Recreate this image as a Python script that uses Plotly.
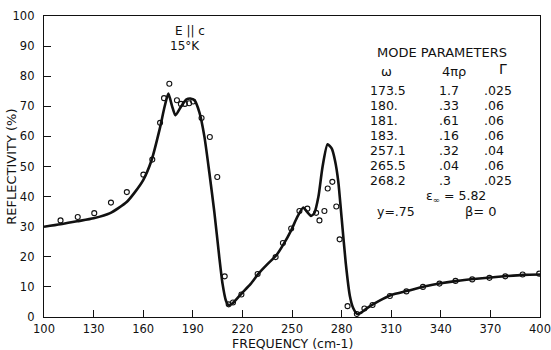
import plotly.graph_objects as go

# Fitted reflectivity curve (frequency in cm-1, reflectivity in %)
fit_freq = [100, 110, 120, 130, 140, 150, 155, 160, 165, 170, 173, 175.2, 177.5, 179.5,
            183, 186, 188.5, 191, 194, 197, 200, 203, 206, 208, 210, 211.5, 214,
            219.5, 225, 230, 235, 240.5, 245, 249.5, 253, 256.8, 259, 261.5, 263.5,
            266, 268.5, 271.5, 274, 276, 278, 280, 282.5, 285, 287, 289.5, 292,
            295, 300, 305, 310, 320, 330, 340, 350, 360, 370, 380, 390, 400]
fit_refl = [30.0, 30.8, 31.8, 32.8, 34.5, 38.2, 41.5, 45.5, 52, 62.5, 70, 74.2, 70, 67,
            70, 72.2, 72.6, 72, 68, 60, 48, 35, 20, 11, 5.5, 4, 4.5,
            7.8, 11, 14.6, 17.5, 20.5, 24.3, 28.8, 33, 36.4, 35, 33.6, 34.5,
            40, 50, 57.4, 56, 52, 45, 33, 18, 7, 3, 1.0, 1.5,
            2.8, 4.5, 6, 7.3, 8.7, 10.1, 11.2, 12.0, 12.6, 13.1, 13.6, 14.0, 14.1]

# Measured reflectivity points
meas_freq = [110, 120.4, 130.4, 140.5, 150.1, 160.1, 165.5, 170.2, 172.6, 175.8,
             180.4, 182.8, 185.2, 187.8, 190.2, 195.3, 200.3, 204.8, 209.3, 211.7,
             214.3, 219.4, 229.2, 240.1, 244.5, 249.5, 254.5, 259.3, 264.6, 266.6,
             269.6, 271.6, 274.4, 276.8, 278.8, 283.6, 289.2, 293.8, 298.7, 309.2,
             319.2, 329.2, 339.2, 348.9, 359, 369.4, 379, 389.5, 399.5]
meas_refl = [32.1, 33.2, 34.5, 38.0, 41.5, 47.3, 52.3, 64.5, 72.7, 77.5,
             72.0, 70.8, 70.8, 71.0, 71.6, 66.1, 59.8, 46.5, 13.5, 4.2,
             4.8, 7.5, 14.3, 19.9, 24.6, 29.4, 35.2, 36.0, 34.6, 32.1,
             35.2, 42.7, 44.9, 36.7, 25.8, 3.6, 1.0, 2.8, 4.0, 7.0,
             8.5, 10.0, 11.1, 12.0, 12.5, 13.0, 13.5, 14.1, 14.4]

# Oscillator mode parameters listed in the table
mode_omega = ["173.5", "180.", "181.", "183.", "257.1", "265.5", "268.2"]
mode_strength = ["1.7", ".33", ".61", ".16", ".32", ".04", ".3"]
mode_gamma = [".025", ".06", ".06", ".06", ".04", ".06", ".025"]

x_ticks = list(range(100, 401, 30))
y_ticks = list(range(0, 101, 10))

FONT = "DejaVu Sans"
INK = "#111111"

fig = go.Figure()
fig.add_trace(go.Scatter(
    x=fit_freq, y=fit_refl, mode="lines",
    line=dict(color=INK, width=2.6, shape="spline", smoothing=0.6),
    hoverinfo="skip", showlegend=False))
fig.add_trace(go.Scatter(
    x=meas_freq, y=meas_refl, mode="markers",
    marker=dict(symbol="circle-open", size=5, color=INK, line=dict(width=1.1, color=INK)),
    showlegend=False))

annotations = []

def label(x, y, text, size=12, xanchor="center"):
    annotations.append(dict(x=x, y=y, xref="x", yref="y", text=text, showarrow=False,
                            xanchor=xanchor, yanchor="middle",
                            font=dict(family=FONT, size=size, color=INK)))

label(188.5, 95, "E || c", 12)
label(185.5, 90, "15°K", 12)

# Mode parameter table
label(340.5, 87.8, "MODE PARAMETERS", 13)
label(307, 81.5, "ω", 13)
label(348, 81.5, "4πρ", 13)
label(377.5, 82.5, "Γ", 14)
row_y = [75.3, 70.3, 65.3, 60.3, 55.3, 50.3, 45.3]
for yv, w, s, g in zip(row_y, mode_omega, mode_strength, mode_gamma):
    label(296, yv, w, 12.5, "left")
    label(338, yv, s, 12.5, "left")
    label(365, yv, g, 12.5, "left")
label(349, 40.2, "ε<sub>∞</sub> = 5.82", 12.5)
label(313, 35.0, "y=.75", 12.5)
label(364.5, 35.0, "β= 0", 13)

# Axis titles
annotations.append(dict(x=-0.066, y=0.5, xref="paper", yref="paper", text="REFLECTIVITY (%)",
                        textangle=-90, showarrow=False, xanchor="center", yanchor="middle",
                        font=dict(family=FONT, size=13, color=INK)))
annotations.append(dict(x=0.5, y=-0.088, xref="paper", yref="paper", text="FREQUENCY (cm-1)",
                        showarrow=False, xanchor="center", yanchor="middle",
                        font=dict(family=FONT, size=12.5, color=INK)))

axis_common = dict(showgrid=False, zeroline=False, showline=True, mirror=True,
                   linecolor=INK, linewidth=1.4, ticks="inside", ticklen=7,
                   tickwidth=1.2, tickcolor=INK, ticklabeloverflow="allow",
                   automargin=False,
                   tickfont=dict(family=FONT, size=11.5, color=INK))

fig.update_layout(
    width=551, height=350,
    margin=dict(l=44, r=11, t=16, b=33),
    paper_bgcolor="white", plot_bgcolor="white",
    xaxis=dict(range=[100, 400], tickvals=x_ticks, ticklabelstandoff=1, **axis_common),
    yaxis=dict(range=[0, 100], tickvals=y_ticks, ticklabelstandoff=6, **axis_common),
    annotations=annotations,
)

fig.write_html("out.html")
